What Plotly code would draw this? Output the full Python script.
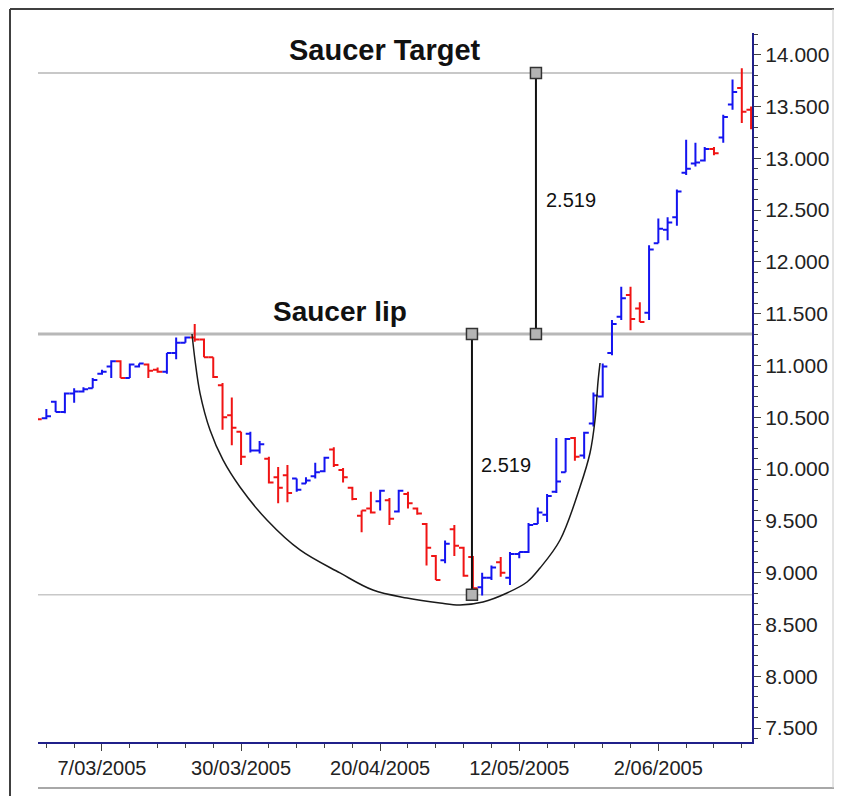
import plotly.graph_objects as go

# ---------------- data ----------------
day_index = list(range(-7, 71))  # trading-day index, 0 = 7/03/2005
opens = [10.50,10.49,10.65,10.55,10.73,10.75,10.78,
         10.92,10.99,11.04,10.88,10.99,11.01,10.96,10.94,11.12,11.22,
         11.27,11.25,11.08,10.81,10.52,10.36,10.34,10.18,10.10,9.92,
         9.94,9.91,9.86,9.93,9.98,10.19,9.99,9.82,9.55,9.62,
         9.69,9.70,9.59,9.76,9.62,9.47,9.16,9.12,9.42,9.24,
         9.15,8.86,8.95,9.10,8.95,9.18,9.20,9.47,9.56,9.78,
         9.97,10.30,10.13,10.44,10.70,11.12,11.47,11.68,11.55,11.51,
         12.18,12.31,12.43,12.86,12.95,12.98,13.09,13.20,13.52,13.68,13.47]
highs = [10.51,10.58,10.66,10.74,10.78,10.79,10.88,
         10.96,11.05,11.05,11.02,11.02,11.02,10.98,11.12,11.27,11.28,
         11.40,11.26,11.08,10.83,10.69,10.36,10.36,10.27,10.12,10.02,
         10.04,9.91,9.92,10.06,10.12,10.21,10.01,9.83,9.60,9.78,
         9.80,9.72,9.80,9.78,9.63,9.48,9.17,9.31,9.46,9.25,
         9.16,9.00,9.07,9.15,9.20,9.20,9.48,9.63,9.76,10.30,
         10.30,10.31,10.36,10.74,11.02,11.44,11.76,11.76,11.61,12.16,
         12.42,12.43,12.70,13.18,13.15,13.11,13.11,13.42,13.76,13.87,13.50]
lows = [10.47,10.48,10.55,10.54,10.64,10.74,10.78,
        10.91,10.88,10.88,10.88,10.98,10.88,10.93,10.92,11.06,11.22,
        11.23,11.08,10.88,10.38,10.23,10.04,10.16,10.15,9.86,9.67,
        9.68,9.78,9.86,9.91,9.97,10.02,9.87,9.70,9.39,9.57,
        9.60,9.46,9.58,9.62,9.56,9.07,8.93,9.09,9.16,8.96,
        8.80,8.78,8.93,8.96,8.88,9.14,9.19,9.47,9.49,9.77,
        9.97,10.08,10.10,10.41,10.69,11.10,11.44,11.34,11.42,11.44,
        12.18,12.21,12.35,12.84,12.92,12.97,13.03,13.15,13.47,13.34,13.28]
closes = [10.48,10.51,10.55,10.73,10.75,10.77,10.86,
          10.94,11.04,10.88,11.01,11.02,10.95,10.94,11.12,11.22,11.27,
          11.25,11.08,10.89,10.50,10.40,10.12,10.18,10.24,9.87,9.82,
          9.77,9.80,9.89,9.97,10.11,10.04,9.92,9.71,9.60,9.58,
          9.79,9.52,9.79,9.67,9.57,9.24,8.93,9.28,9.26,8.97,
          8.85,8.95,9.05,9.00,9.18,9.20,9.46,9.58,9.74,9.88,
          10.29,10.12,10.35,10.71,10.99,11.40,11.65,11.45,11.42,12.12,
          12.32,12.38,12.68,12.90,12.96,13.09,13.05,13.40,13.64,13.45,13.30]

tick_days = [0, 15, 30, 45, 60]
tick_labels = ["7/03/2005", "30/03/2005", "20/04/2005", "12/05/2005", "2/06/2005"]

# saucer curve (trading-day index, price)
curve_x = [9.71,10.03,10.57,11.65,13.05,14.88,17.79,21.35,25.67,29.22,32.89,36.45,
           38.61,41.09,43.68,45.84,47.24,49.40,51.55,52.63,53.17,53.49,53.71]
curve_y = [11.304,11.053,10.734,10.377,10.088,9.827,9.508,9.219,8.997,8.832,8.755,8.707,
           8.688,8.717,8.804,8.910,9.045,9.315,9.827,10.155,10.474,10.841,11.024]

saucer_bottom = 8.786
saucer_depth = 2.519
saucer_lip = saucer_bottom + saucer_depth
saucer_target = saucer_lip + saucer_depth
measure_x = [39.9, 46.8]

# ---------------- figure ----------------
BLUE = "#1414f0"
RED = "#f01414"
FONT = "Liberation Sans, Arial, sans-serif"

up = [i for i in range(len(closes)) if (closes[i] > (closes[i-1] if i > 0 else opens[i]))]
dn = [i for i in range(len(closes)) if i not in up]

def pick(arr, idx):
    return [arr[i] for i in idx]

fig = go.Figure()

for idx, col in ((up, BLUE), (dn, RED)):
    fig.add_trace(go.Ohlc(
        x=pick(day_index, idx), open=pick(opens, idx), high=pick(highs, idx),
        low=pick(lows, idx), close=pick(closes, idx),
        increasing=dict(line=dict(color=col, width=2)),
        decreasing=dict(line=dict(color=col, width=2)),
        tickwidth=0.5, showlegend=False, hoverinfo="skip"))

fig.add_trace(go.Scatter(x=curve_x, y=curve_y, mode="lines",
                         line=dict(color="#1a1a1a", width=1.5, shape="spline", smoothing=1.0),
                         showlegend=False, hoverinfo="skip"))

# measurement lines with square handles
fig.add_trace(go.Scatter(x=[measure_x[0], measure_x[0]], y=[saucer_bottom, saucer_lip],
                         mode="lines+markers",
                         line=dict(color="#111111", width=2),
                         marker=dict(symbol="square", size=11, color="#b4b4b4",
                                     line=dict(color="#333333", width=1.5)),
                         showlegend=False, hoverinfo="skip"))
fig.add_trace(go.Scatter(x=[measure_x[1], measure_x[1]], y=[saucer_lip, saucer_target],
                         mode="lines+markers",
                         line=dict(color="#111111", width=2),
                         marker=dict(symbol="square", size=11, color="#b4b4b4",
                                     line=dict(color="#333333", width=1.5)),
                         showlegend=False, hoverinfo="skip"))

shapes = [
    dict(type="line", xref="paper", x0=0, x1=1, yref="y", y0=saucer_target, y1=saucer_target,
         line=dict(color="#c8c8c8", width=2), layer="below"),
    dict(type="line", xref="paper", x0=0, x1=1, yref="y", y0=saucer_lip, y1=saucer_lip,
         line=dict(color="#b8b8b8", width=3), layer="below"),
    dict(type="line", xref="paper", x0=0, x1=1, yref="y", y0=saucer_bottom, y1=saucer_bottom,
         line=dict(color="#c8c8c8", width=1.5), layer="below"),
]

# outer frame (figure pixel space converted to paper coords)
L, R, T, B = 30, 82, 25, 54
W, H = 826, 788
PW, PH = W - L - R, H - T - B
def px(fx):
    return (fx - L) / PW
def py(fy):
    return (H - B - fy) / PH
shapes += [
    dict(type="line", xref="paper", yref="paper", x0=px(2), x1=px(W), y0=py(1), y1=py(1),
         line=dict(color="#404040", width=2)),
    dict(type="line", xref="paper", yref="paper", x0=px(2), x1=px(2), y0=py(1), y1=py(H),
         line=dict(color="#404040", width=2)),
    dict(type="line", xref="paper", yref="paper", x0=px(30), x1=px(W), y0=py(780), y1=py(780),
         line=dict(color="#a8a8a8", width=2)),
    dict(type="line", xref="paper", yref="paper", x0=px(W - 1), x1=px(W - 1), y0=py(1), y1=py(780),
         line=dict(color="#c8c8c8", width=1)),
]

annotations = [
    dict(x=30.5, y=14.046, xref="x", yref="y", text="<b>Saucer Target</b>", showarrow=False,
         font=dict(family=FONT, size=29, color="#111111")),
    dict(x=25.7, y=11.52, xref="x", yref="y", text="<b>Saucer lip</b>", showarrow=False,
         font=dict(family=FONT, size=28, color="#111111")),
    dict(x=50.6, y=12.60, xref="x", yref="y", text=f"{saucer_depth:.3f}", showarrow=False,
         font=dict(family=FONT, size=20, color="#111111")),
    dict(x=43.6, y=10.04, xref="x", yref="y", text=f"{saucer_depth:.3f}", showarrow=False,
         font=dict(family=FONT, size=20, color="#111111")),
]

fig.update_layout(
    width=W, height=H,
    margin=dict(l=L, r=R, t=T, b=B, pad=0, autoexpand=False),
    paper_bgcolor="white", plot_bgcolor="white",
    font=dict(family=FONT, size=20, color="#222222"),
    shapes=shapes, annotations=annotations,
    xaxis=dict(
        range=[-6.9, 70.1], rangeslider=dict(visible=False), automargin=False,
        showgrid=False, zeroline=False,
        showline=True, linecolor="#20208a", linewidth=2,
        ticks="outside", ticklen=7, tickwidth=1, tickcolor="#404040",
        tickmode="array", tickvals=tick_days, ticktext=tick_labels,
        tickfont=dict(family=FONT, size=20, color="#222222"),
        minor=dict(ticks="outside", ticklen=4, tickcolor="#404040", tickmode="linear", tick0=0, dtick=3),
    ),
    yaxis=dict(
        range=[7.365, 14.21], side="right", automargin=False,
        showgrid=False, zeroline=False,
        showline=True, linecolor="#20208a", linewidth=2,
        ticks="outside", ticklen=7, tickwidth=1, tickcolor="#404040",
        tickmode="linear", tick0=7.5, dtick=0.5, tickformat=".3f",
        tickfont=dict(family=FONT, size=21, color="#222222"),
        minor=dict(ticks="outside", ticklen=4, tickcolor="#404040", tickmode="linear", tick0=0, dtick=0.1),
    ),
)

fig.write_html("out.html")
